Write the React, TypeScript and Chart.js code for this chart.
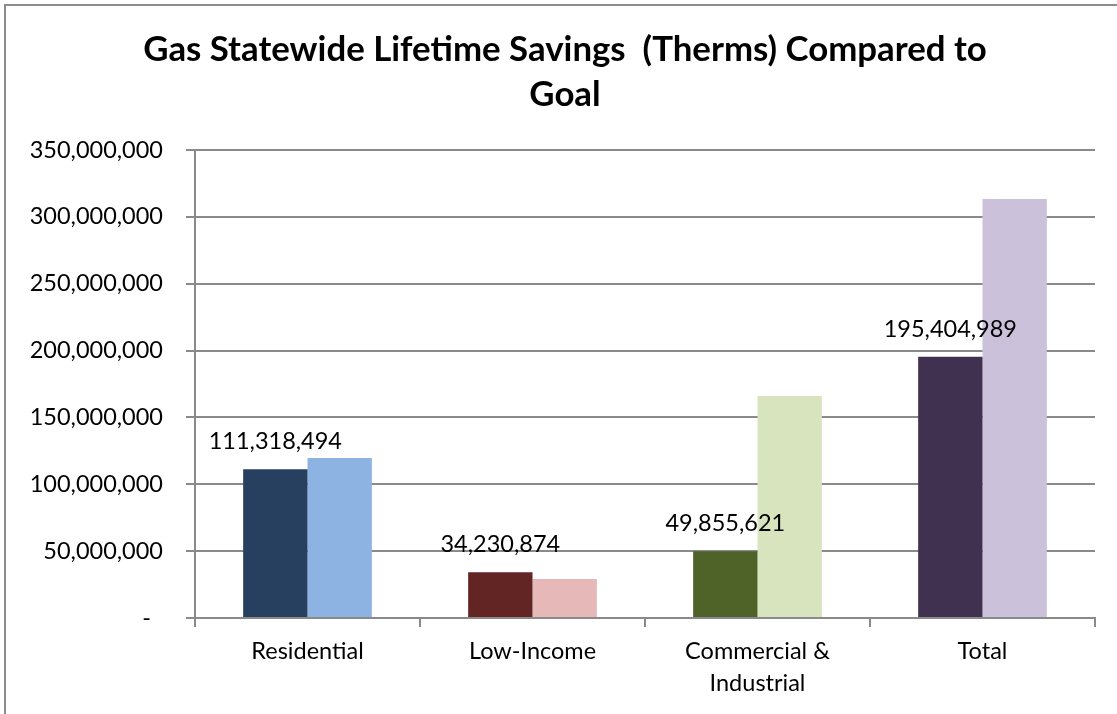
import React, { useEffect, useRef } from "react";
import { Chart, registerables } from "chart.js";

Chart.register(...registerables);

const categories: (string | string[])[] = ["Residential", "Low-Income", ["Commercial &", "Industrial"], "Total"];
const actualSavings = [111318494, 34230874, 49855621, 195404989];
const goalSavings = [119600000, 29200000, 166000000, 313400000];
const actualColors = ["#27405F", "#632523", "#4F6228", "#403151"];
const goalColors = ["#8DB3E2", "#E6B9B8", "#D7E4BD", "#CCC1DA"];
const titleLines = ["Gas Statewide Lifetime Savings  (Therms) Compared to", "Goal"];
const yMax = 350000000;
const yStep = 50000000;

const FONT = "Lato";
const GRID = "#8a8a8a";

const dataLabelPlugin = {
  id: "dataLabels",
  afterDatasetsDraw(chart: any) {
    const ctx = chart.ctx;
    const meta = chart.getDatasetMeta(0);
    const data = chart.data.datasets[0].data as number[];
    ctx.save();
    ctx.font = `23.5px ${FONT}`;
    ctx.fillStyle = "#000000";
    ctx.textAlign = "center";
    ctx.textBaseline = "alphabetic";
    meta.data.forEach((bar: any, i: number) => {
      ctx.fillText(data[i].toLocaleString("en-US"), bar.x, bar.y - 20);
    });
    ctx.restore();
  },
};

// Title centred on the full (cropped) chart frame, which is wider than the viewport
const frameTitlePlugin = {
  id: "frameTitle",
  afterDraw(chart: any) {
    const ctx = chart.ctx;
    ctx.save();
    ctx.font = `bold 34.8px ${FONT}`;
    ctx.fillStyle = "#000000";
    ctx.textAlign = "center";
    ctx.textBaseline = "alphabetic";
    titleLines.forEach((line, i) => {
      ctx.fillText(line, 565, 61 + i * 45);
    });
    ctx.restore();
  },
};

export default function App() {
  const ref = useRef<HTMLCanvasElement | null>(null);

  useEffect(() => {
    if (!ref.current) return;
    const chart = new Chart(ref.current, {
      type: "bar",
      data: {
        labels: categories,
        datasets: [
          {
            label: "Actual",
            data: actualSavings,
            backgroundColor: actualColors,
            barPercentage: 1,
            categoryPercentage: 0.572,
          },
          {
            label: "Goal",
            data: goalSavings,
            backgroundColor: goalColors,
            barPercentage: 1,
            categoryPercentage: 0.572,
          },
        ],
      },
      options: {
        animation: false,
        responsive: false,
        maintainAspectRatio: false,
        layout: { padding: { left: 0, right: 22, top: 150, bottom: 0 } },
        plugins: {
          legend: { display: false },
          tooltip: { enabled: false },
          title: { display: false },
        },
        scales: {
          x: {
            offset: true,
            grid: {
              display: true,
              offset: true,
              drawOnChartArea: false,
              drawTicks: true,
              tickLength: 9,
              color: GRID,
              lineWidth: 2,
            },
            border: { display: true, color: GRID, width: 2 },
            ticks: {
              color: "#000000",
              font: { family: FONT, size: 23.5, lineHeight: 32 / 23.5 },
              padding: 8,
              maxRotation: 0,
              autoSkip: false,
            },
            afterFit(scale: any) {
              scale.height = 96;
            },
          },
          y: {
            min: 0,
            max: yMax,
            grid: {
              color: GRID,
              lineWidth: 2,
              drawTicks: true,
              tickLength: 9,
            },
            border: { display: true, color: GRID, width: 2 },
            ticks: {
              stepSize: yStep,
              color: "#000000",
              font: { family: FONT, size: 23.5 },
              padding: 23,
              callback: (v: any) => (Number(v) === 0 ? "-  " : Number(v).toLocaleString("en-US")),
            },
            afterFit(scale: any) {
              scale.width = 195;
            },
          },
        },
      },
      plugins: [dataLabelPlugin, frameTitlePlugin],
    });
    return () => chart.destroy();
  }, []);

  return (
    <div
      style={{
        position: "fixed",
        left: 0,
        top: 0,
        width: 1117,
        height: 714,
        overflow: "hidden",
        background: "#ffffff",
      }}
    >
      <canvas ref={ref} width={1117} height={714} style={{ position: "absolute", left: 0, top: 0, width: 1117, height: 714 }} />
      <div
        style={{
          position: "absolute",
          left: 4,
          top: 4,
          width: 1200,
          height: 800,
          border: "2px solid #8c8c8c",
          pointerEvents: "none",
        }}
      />
    </div>
  );
}
